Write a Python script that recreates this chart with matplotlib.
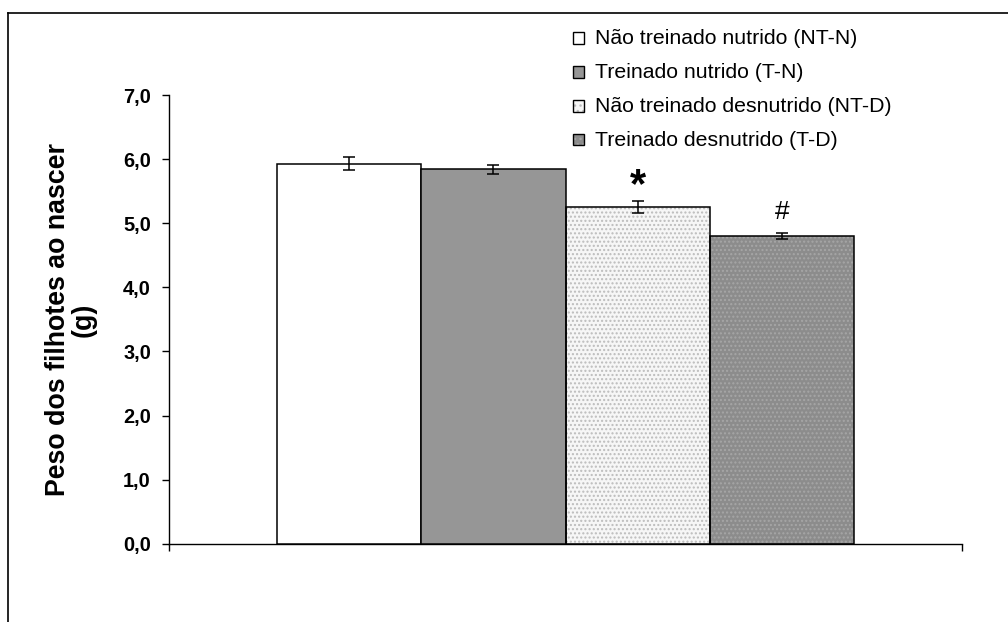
import matplotlib
matplotlib.use("Agg")
import matplotlib.pyplot as plt
from matplotlib.patches import Rectangle
from matplotlib.lines import Line2D

# ---- data ----
groups = ["Não treinado nutrido (NT-N)", "Treinado nutrido (T-N)",
          "Não treinado desnutrido (NT-D)", "Treinado desnutrido (T-D)"]
values = [5.93, 5.84, 5.25, 4.80]
errors = [0.096, 0.073, 0.093, 0.05]
marks = ["", "", "*", "#"]
yticks = [0, 1, 2, 3, 4, 5, 6, 7]
ytick_labels = ["0,0", "1,0", "2,0", "3,0", "4,0", "5,0", "6,0", "7,0"]
ylabel = "Peso dos filhotes ao nascer\n(g)"

# ---- styles ----
faces = ["#ffffff", "#969696", "#f6f6f6", "#8c8c8c"]
hatches = [None, None, "....", "...."]
hatch_cols = [None, None, "#bcbcbc", "#a6a6a6"]

plt.rcParams['font.family'] = ['Liberation Sans', 'DejaVu Sans']
W, H = 1008, 622
fig = plt.figure(figsize=(W / 100, H / 100), dpi=100)

# outer frame (top and left visible)
fig.add_artist(Line2D([8 / W, 1.0], [1 - 13 / H, 1 - 13 / H], color="black", lw=1.2, transform=fig.transFigure))
fig.add_artist(Line2D([8 / W, 8 / W], [0.0, 1 - 13 / H], color="black", lw=1.2, transform=fig.transFigure))

ax = fig.add_axes([169 / W, (H - 543.7) / H, 793 / W, (543.7 - 95) / H])
n = len(values)
bw = 0.182
xs = [(i - (n - 1) / 2) * bw for i in range(n)]

for i in range(n):
    if hatches[i]:
        ax.bar(xs[i], values[i], width=bw, color=faces[i], edgecolor=hatch_cols[i],
               hatch=hatches[i], linewidth=0, zorder=2)
        ax.bar(xs[i], values[i], width=bw, fill=False, edgecolor="black", linewidth=1.1, zorder=3)
    else:
        ax.bar(xs[i], values[i], width=bw, color=faces[i], edgecolor="black", linewidth=1.1, zorder=3)
    ax.errorbar(xs[i], values[i], yerr=errors[i], fmt="none", ecolor="black",
                elinewidth=1.1, capsize=4.3, capthick=1.1, zorder=4)

# significance marks
ax.text(xs[2], values[2] + errors[2] + 0.06, marks[2], ha="center", va="baseline",
        fontsize=30, fontweight="bold")
ax.text(xs[3], values[3] + errors[3] + 0.22, marks[3], ha="center", va="baseline",
        fontsize=19)

ax.set_xlim(-0.5, 0.5)
ax.set_ylim(0, 7)
ax.set_yticks(yticks)
ax.set_yticklabels(ytick_labels, fontsize=14.4, fontweight="bold")
ax.set_xticks([-0.5, 0.5])
ax.set_xticklabels(["", ""])
ax.tick_params(axis="both", direction="out", length=5, width=1.0, color="black")
ax.tick_params(axis="y", pad=8)
for s in ["top", "right"]:
    ax.spines[s].set_visible(False)
for s in ["left", "bottom"]:
    ax.spines[s].set_linewidth(1.0)

ax.set_ylabel(ylabel, fontsize=19.3, fontweight="bold", va="center", linespacing=1.0)
ax.yaxis.set_label_coords((71 - 169) / 793, 0.5)

# legend (manual, top right)
row_y = [38, 72, 106, 140]
for i in range(n):
    yc = row_y[i]
    kw = dict(transform=fig.transFigure, zorder=5)
    if hatches[i]:
        fig.add_artist(Rectangle((573 / W, 1 - (yc + 5.5) / H), 11 / W, 11 / H,
                                 facecolor=faces[i], edgecolor=hatch_cols[i], hatch="...", lw=0, **kw))
        fig.add_artist(Rectangle((573 / W, 1 - (yc + 5.5) / H), 11 / W, 11 / H,
                                 fill=False, edgecolor="black", lw=1.0, **kw))
    else:
        fig.add_artist(Rectangle((573 / W, 1 - (yc + 5.5) / H), 11 / W, 11 / H,
                                 facecolor=faces[i], edgecolor="black", lw=1.0, **kw))
    fig.text(595 / W, 1 - yc / H, groups[i], fontsize=15.3, ha="left", va="center")

fig.savefig("out.png", dpi=100)
